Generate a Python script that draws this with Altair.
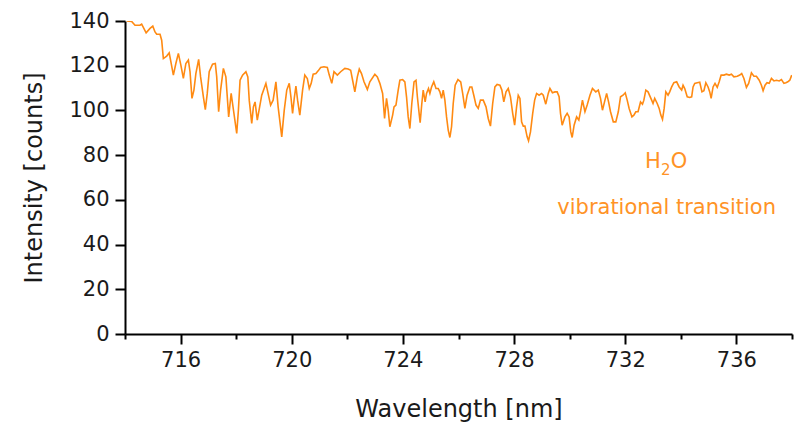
import altair as alt
import pandas as pd

wavelength = [
    714.06, 714.24, 714.36, 714.54, 714.60, 714.76, 714.90, 715.00, 715.08, 715.14,
    715.26, 715.32, 715.38, 715.50, 715.59, 715.64, 715.74, 715.83, 715.92, 716.01,
    716.10, 716.19, 716.28, 716.34, 716.41, 716.48, 716.55, 716.65, 716.72, 716.82,
    716.89, 716.96, 717.03, 717.15, 717.25, 717.30, 717.37, 717.44, 717.54, 717.63,
    717.73, 717.82, 717.87, 718.02, 718.08, 718.14, 718.23, 718.35, 718.42, 718.47,
    718.56, 718.62, 718.68, 718.76, 718.92, 719.07, 719.24, 719.33, 719.43, 719.51,
    719.64, 719.73, 719.82, 719.91, 719.97, 720.03, 720.09, 720.15, 720.21, 720.29,
    720.39, 720.47, 720.56, 720.63, 720.70, 720.77, 720.87, 720.95, 721.04, 721.16,
    721.28, 721.35, 721.44, 721.52, 721.64, 721.76, 721.91, 722.03, 722.12, 722.19,
    722.27, 722.36, 722.43, 722.51, 722.60, 722.72, 722.81, 722.99, 723.08, 723.17,
    723.27, 723.34, 723.41, 723.47, 723.53, 723.63, 723.68, 723.75, 723.83, 723.89,
    723.99, 724.07, 724.13, 724.19, 724.25, 724.32, 724.40, 724.47, 724.52, 724.59,
    724.62, 724.68, 724.73, 724.80, 724.85, 724.92, 724.97, 725.03, 725.11, 725.19,
    725.27, 725.33, 725.39, 725.45, 725.51, 725.57, 725.63, 725.69, 725.75, 725.81,
    725.88, 725.98, 726.08, 726.15, 726.23, 726.31, 726.41, 726.48, 726.55, 726.63,
    726.71, 726.79, 726.89, 726.99, 727.07, 727.15, 727.23, 727.31, 727.39, 727.49,
    727.56, 727.63, 727.71, 727.79, 727.87, 727.95, 728.02, 728.09, 728.15, 728.21,
    728.27, 728.33, 728.39, 728.47, 728.52, 728.59, 728.67, 728.74, 728.81, 728.90,
    728.99, 729.05, 729.14, 729.23, 729.29, 729.38, 729.47, 729.55, 729.62, 729.67,
    729.73, 729.83, 729.91, 729.98, 730.04, 730.09, 730.16, 730.25, 730.33, 730.40,
    730.46, 730.55, 730.63, 730.73, 730.82, 730.94, 731.03, 731.11, 731.18, 731.27,
    731.33, 731.40, 731.47, 731.57, 731.66, 731.75, 731.83, 731.92, 732.00, 732.07,
    732.14, 732.24, 732.31, 732.38, 732.46, 732.55, 732.62, 732.67, 732.74, 732.82,
    732.95, 733.00, 733.06, 733.15, 733.22, 733.28, 733.34, 733.40, 733.46, 733.54,
    733.60, 733.67, 733.75, 733.85, 733.94, 734.03, 734.08, 734.14, 734.23, 734.32,
    734.39, 734.44, 734.50, 734.59, 734.68, 734.76, 734.83, 734.90, 734.98, 735.04,
    735.09, 735.16, 735.23, 735.31, 735.38, 735.45, 735.55, 735.64, 735.74, 735.82,
    735.91, 736.03, 736.12, 736.19, 736.27, 736.36, 736.44, 736.54, 736.63, 736.72,
    736.82, 736.90, 736.96, 737.03, 737.10, 737.18, 737.26, 737.35, 737.44, 737.54,
    737.62, 737.71, 737.78, 737.85, 737.92, 737.99,
]

intensity = [
    140.0, 139.8, 138.1, 138.1, 138.6, 134.7, 136.7, 137.7, 135.1, 134.1,
    134.1, 131.4, 123.2, 124.3, 125.7, 122.5, 115.8, 121.0, 125.5, 120.3,
    114.3, 121.0, 122.5, 117.3, 105.4, 109.1, 116.5, 122.8, 115.0, 106.1,
    100.4, 107.6, 117.3, 120.7, 121.0, 115.0, 99.4, 109.1, 118.8, 115.0,
    97.1, 107.6, 103.1, 89.7, 100.1, 113.5, 115.8, 117.3, 115.0, 104.6,
    94.2, 101.6, 103.8, 95.7, 106.8, 112.1, 102.4, 104.6, 112.8, 101.6,
    88.2, 100.1, 109.1, 112.1, 106.1, 98.7, 105.4, 110.9, 104.6, 97.9,
    109.1, 115.8, 114.3, 109.8, 112.1, 116.2, 116.5, 117.7, 119.2, 119.5,
    119.2, 115.8, 112.1, 117.3, 115.8, 117.3, 118.8, 118.5, 118.0, 113.5,
    108.3, 115.0, 118.5, 116.5, 112.8, 109.4, 112.8, 116.2, 115.0, 112.1,
    107.6, 96.4, 105.4, 100.1, 92.7, 97.9, 101.6, 102.4, 109.1, 113.5,
    113.8, 112.8, 106.1, 97.1, 91.9, 103.1, 112.8, 113.5, 106.1, 97.9,
    94.5, 103.1, 109.1, 103.8, 107.6, 109.8, 107.6, 110.5, 112.8, 109.8,
    109.8, 108.3, 105.4, 109.1, 104.6, 97.1, 91.2, 87.9, 92.7, 103.1,
    111.3, 113.8, 112.8, 107.6, 100.9, 106.8, 110.5, 110.5, 106.8, 102.4,
    100.9, 104.6, 104.6, 101.6, 96.4, 93.0, 103.1, 110.5, 111.6, 111.3,
    109.1, 103.8, 108.3, 109.8, 106.1, 98.7, 93.4, 101.6, 106.8, 105.4,
    94.9, 93.0, 93.0, 88.2, 86.4, 90.4, 98.7, 104.6, 107.6, 106.8,
    107.6, 106.8, 102.8, 107.6, 109.8, 107.9, 108.3, 108.3, 106.1, 98.7,
    93.4, 97.1, 98.7, 97.1, 90.4, 87.9, 93.4, 97.1, 95.7, 100.1,
    104.6, 99.4, 102.4, 106.8, 109.8, 108.3, 109.1, 105.4, 100.1, 104.6,
    107.6, 103.8, 99.4, 94.9, 94.9, 99.4, 106.1, 106.8, 107.9, 104.6,
    100.9, 97.1, 97.9, 99.4, 99.4, 103.8, 102.8, 104.6, 109.1, 108.3,
    104.6, 103.1, 105.4, 103.1, 100.9, 97.9, 96.0, 100.9, 108.3, 106.8,
    108.3, 110.5, 112.4, 112.8, 110.5, 109.1, 111.3, 109.8, 106.1, 105.8,
    106.1, 110.5, 112.1, 112.4, 112.6, 108.3, 108.8, 112.4, 110.5, 108.3,
    105.4, 110.5, 112.1, 110.3, 112.8, 115.8, 115.8, 116.2, 115.8, 116.2,
    115.0, 115.3, 115.8, 116.5, 114.3, 110.3, 112.1, 116.8, 115.3, 115.3,
    113.5, 111.3, 108.8, 111.3, 112.4, 112.1, 114.3, 113.2, 113.5, 113.2,
    113.8, 112.1, 112.4, 112.8, 113.5, 115.8,
]

x_ticks = list(range(714, 739))        # every 1 nm; labels every 4 nm
y_ticks = list(range(0, 141, 10))      # every 10 counts; labels every 20

anno_h2o_x = [733.46]
anno_h2o_y = [74.3]
anno_line2 = ["vibrational transition"]
anno_line2_x = [733.49]
anno_line2_y = [53.8]

LINE_COLOR = "#ff8a12"
TEXT_COLOR = "#ff9326"
FONT = "DejaVu Sans"

df = pd.DataFrame({"wl": wavelength, "inten": intensity})

xscale = alt.Scale(domain=[714, 738], nice=False, zero=False)
yscale = alt.Scale(domain=[0, 140], nice=False)

x_major_test = "datum.value % 4 === 0"
y_major_test = "datum.value % 20 === 0"

line = alt.Chart(df).mark_line(color=LINE_COLOR, strokeWidth=1.6, clip=True).encode(
    x=alt.X("wl:Q", scale=xscale,
            axis=alt.Axis(values=x_ticks, orient="bottom", title="Wavelength [nm]",
                          labelExpr=f"{x_major_test} ? datum.label : ''",
                          tickSize={"condition": {"test": x_major_test, "value": 10}, "value": 5},
                          tickWidth=2, tickColor="black",
                          domainColor="black", domainWidth=2, grid=False,
                          labelFont=FONT, labelFontSize=21, labelColor="#1a1a1a",
                          labelPadding=5, labelFlush=False, labelOverlap=False,
                          titleFont=FONT, titleFontSize=24,
                          titleFontWeight="normal", titleColor="#1a1a1a", titlePadding=27)),
    y=alt.Y("inten:Q", scale=yscale,
            axis=alt.Axis(values=y_ticks, orient="left", title="Intensity [counts]",
                          labelExpr=f"{y_major_test} ? datum.label : ''",
                          tickSize={"condition": {"test": y_major_test, "value": 10}, "value": 5},
                          tickWidth=2, tickColor="black",
                          domainColor="black", domainWidth=2, grid=False,
                          labelFont=FONT, labelFontSize=21, labelColor="#1a1a1a",
                          labelPadding=6, labelFlush=False, labelOverlap=False,
                          titleFont=FONT, titleFontSize=24,
                          titleFontWeight="normal", titleColor="#1a1a1a", titlePadding=22)),
)

h2o_df = pd.DataFrame({"wl": anno_h2o_x, "inten": anno_h2o_y})
h_txt = alt.Chart(h2o_df).mark_text(text="H", align="right", baseline="alphabetic",
                                    dx=-5, font=FONT, fontSize=21, color=TEXT_COLOR).encode(
    x="wl:Q", y="inten:Q")
two_txt = alt.Chart(h2o_df).mark_text(text="2", align="center", baseline="alphabetic",
                                      dy=7, font=FONT, fontSize=15, color=TEXT_COLOR).encode(
    x="wl:Q", y="inten:Q")
o_txt = alt.Chart(h2o_df).mark_text(text="O", align="left", baseline="alphabetic",
                                    dx=5, font=FONT, fontSize=21, color=TEXT_COLOR).encode(
    x="wl:Q", y="inten:Q")

l2_df = pd.DataFrame({"wl": anno_line2_x, "inten": anno_line2_y, "t": anno_line2})
l2_txt = alt.Chart(l2_df).mark_text(align="center", baseline="alphabetic",
                                    font=FONT, fontSize=21, color=TEXT_COLOR).encode(
    x="wl:Q", y="inten:Q", text="t:N")

chart = alt.layer(line, h_txt, two_txt, o_txt, l2_txt).properties(
    width=667, height=313,
    padding={"left": 125, "top": 21, "right": 4, "bottom": 92},
    autosize=alt.AutoSizeParams(type="none"),
).configure_view(stroke=None)

chart.save("out.html", embed_options={"renderer": "svg", "actions": False})
